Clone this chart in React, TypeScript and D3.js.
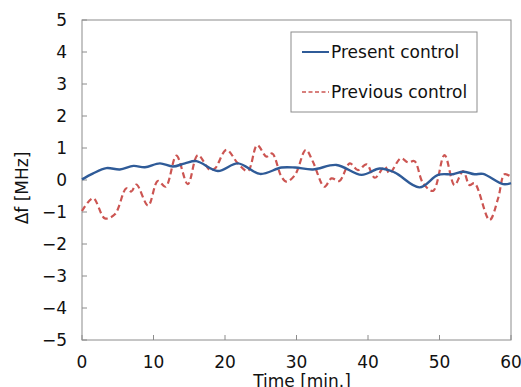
import * as d3 from "d3";

// Present control (blue solid)
const presentTime = [0, 1.5, 3.4, 5.3, 7.2, 8.8, 10.9, 12.7, 14.4, 16, 19, 21.8, 24.9, 27.9, 29.8, 32.3, 35.6, 39.1, 41.65, 43.7, 47.2, 49.8, 51.9, 53.3, 54.9, 56.1, 58.9, 60];
const presentDf = [0.02, 0.2, 0.37, 0.33, 0.44, 0.4, 0.52, 0.42, 0.52, 0.59, 0.28, 0.52, 0.19, 0.39, 0.39, 0.33, 0.47, 0.16, 0.36, 0.24, -0.23, 0.16, 0.18, 0.26, 0.18, 0.19, -0.13, -0.1];

// Previous control (red dashed)
const previousTime = [0, 1.55, 3.2, 4.6, 6.2, 6.9, 7.6, 9.25, 10.6, 11.7, 13.2, 14.8, 16.2, 17.9, 18.6, 20.2, 21.8, 23.2, 24.5, 25.8, 26.6, 27.9, 28.6, 29.8, 31.3, 32.3, 33.9, 34.9, 36, 37.45, 38.6, 39.8, 40.95, 42.35, 43, 44.6, 45.6, 46.5, 47.7, 49.1, 50.7, 52.1, 53.3, 54.2, 54.9, 57, 58.2, 59.1, 60];
const previousDf = [-0.97, -0.57, -1.2, -1.07, -0.26, -0.36, -0.14, -0.8, -0.03, -0.21, 0.76, -0.13, 0.78, 0.31, 0.36, 0.94, 0.52, 0.28, 1.09, 0.73, 0.83, 0.1, -0.05, 0.16, 0.94, 0.57, -0.21, 0.05, -0.03, 0.52, 0.31, 0.49, 0.07, 0.42, 0.21, 0.68, 0.55, 0.59, -0.1, -0.34, 0.78, -0.16, 0.28, -0.16, -0.1, -1.25, -0.57, 0.18, 0.1];

const xTicks = [0, 10, 20, 30, 40, 50, 60];
const yTicks = [-5, -4, -3, -2, -1, 0, 1, 2, 3, 4, 5];

const W = 521;
const H = 387;
const m = { left: 82, right: 10, top: 20, bottom: 47 };
const font = "'DejaVu Sans', sans-serif";

export default function App() {
  const x = d3.scaleLinear().domain([0, 60]).range([m.left, W - m.right]);
  const y = d3.scaleLinear().domain([-5, 5]).range([H - m.bottom, m.top]);

  const line = d3
    .line<[number, number]>()
    .x((d) => x(d[0]))
    .y((d) => y(d[1]))
    .curve(d3.curveCatmullRom.alpha(0.5));

  const present = presentTime.map((t, i) => [t, presentDf[i]] as [number, number]);
  const previous = previousTime.map((t, i) => [t, previousDf[i]] as [number, number]);

  const axisColor = "#8c8c8c";
  const blue = "#2f5b98";
  const red = "#cc5552";

  return (
    <svg width={W} height={H} style={{ position: "absolute", left: 0, top: 0 }} fontFamily={font}>
      <rect x={0} y={0} width={W} height={H} fill="#fff" />
      {/* frame */}
      <rect x={x(0)} y={y(5)} width={x(60) - x(0)} height={y(-5) - y(5)} fill="none" stroke={axisColor} strokeWidth={1} />
      {/* ticks, pointing inward */}
      {yTicks.map((t) => (
        <g key={"y" + t}>
          <line x1={x(0)} x2={x(0) + 5} y1={y(t)} y2={y(t)} stroke={axisColor} />
          <text x={x(0) - 15} y={y(t)} dy="0.36em" textAnchor="end" fontSize={17} fill="#111">
            {t < 0 ? "\u2212" + Math.abs(t) : t}
          </text>
        </g>
      ))}
      {xTicks.map((t) => (
        <g key={"x" + t}>
          <line x1={x(t)} x2={x(t)} y1={y(-5)} y2={y(-5) - 5} stroke={axisColor} />
          <text x={x(t)} y={368} textAnchor="middle" fontSize={17} fill="#111">
            {t}
          </text>
        </g>
      ))}
      <text x={302} y={387} textAnchor="middle" fontSize={17} fill="#111">
        Time [min.]
      </text>
      <text transform="translate(28,188) rotate(-90)" textAnchor="middle" fontSize={17} fill="#111">
        Δf [MHz]
      </text>

      <path d={line(previous) ?? ""} fill="none" stroke={red} strokeWidth={2.2} strokeDasharray="6,3.5" />
      <path d={line(present) ?? ""} fill="none" stroke={blue} strokeWidth={2.4} />

      {/* legend */}
      <rect x={291} y={32} width={186} height={80} fill="#fff" stroke={axisColor} strokeWidth={1} />
      <line x1={302} x2={329} y1={52} y2={52} stroke={blue} strokeWidth={2} />
      <text x={331} y={52} dy="0.36em" fontSize={17} fill="#111">
        Present control
      </text>
      <line x1={302} x2={329} y1={92} y2={92} stroke={red} strokeWidth={1.5} strokeDasharray="4,2.5" />
      <text x={331} y={92} dy="0.36em" fontSize={17} fill="#111">
        Previous control
      </text>
    </svg>
  );
}
